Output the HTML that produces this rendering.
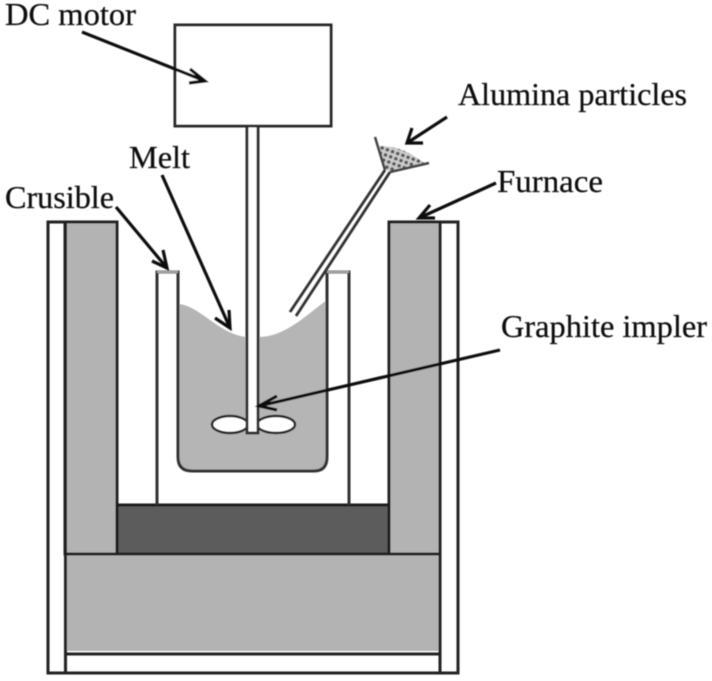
<!DOCTYPE html>
<html>
<head>
<meta charset="utf-8">
<style>
html,body{margin:0;padding:0;background:#fff;width:712px;height:681px;overflow:hidden}
svg{display:block}
text{font-family:"Liberation Serif",serif;font-size:32px;fill:#111;stroke:#111;stroke-width:.25}
</style>
</head>
<body>
<svg width="712" height="681" viewBox="0 0 712 681" xmlns="http://www.w3.org/2000/svg">
<defs>
<filter id="b" x="-5%" y="-5%" width="110%" height="110%"><feGaussianBlur stdDeviation="0.5"/></filter>
<pattern id="dots" width="5.500" height="5.500" patternUnits="userSpaceOnUse" patternTransform="rotate(20)">
<rect width="5.500" height="5.500" fill="#ccc"/><circle cx="2.750" cy="2.750" r="1.800" fill="#555"/>
</pattern>
</defs>
<g filter="url(#b)">
<!-- furnace -->
<rect x="65" y="222" width="52" height="332" fill="#b3b3b3" stroke="#222" stroke-width="3"/>
<rect x="389" y="222" width="51" height="332" fill="#b3b3b3" stroke="#222" stroke-width="3"/>
<rect x="117" y="505" width="272" height="49" fill="#5c5c5c" stroke="#1a1a1a" stroke-width="3"/>
<rect x="65.500" y="554" width="374.500" height="97" fill="#b3b3b3"/>
<path d="M65 222H48V673H458V222H440" fill="none" stroke="#222" stroke-width="3"/>
<path d="M65.500 554H440M65.500 654H440M65.500 222V673M440 222V673" fill="none" stroke="#222" stroke-width="3"/>
<!-- crucible -->
<path d="M157 505V272H178V300M349 505V272H327V300" fill="none" stroke="#333" stroke-width="3"/>
<path d="M157 272H178M327 272H349" stroke="#aaa" stroke-width="2" fill="none"/>
<path d="M179 304C200 306 220 335 247 337L258 337C285 337 305 316 327 300V457Q327 470 314 470H192Q179 470 179 457Z" fill="#b5b5b5"/>
<path d="M178 300V457Q178 471 192 471H314Q327 471 327 457V300" fill="none" stroke="#333" stroke-width="3"/>
<!-- impeller -->
<ellipse cx="230" cy="424.500" rx="18" ry="8.500" fill="#fff" stroke="#222" stroke-width="2.500"/>
<ellipse cx="276" cy="424.500" rx="19" ry="8.500" fill="#fff" stroke="#222" stroke-width="2.500"/>
<!-- shaft -->
<path d="M247 126V433H258V126" fill="#fff" stroke="#333" stroke-width="3"/>
<!-- motor -->
<rect x="175" y="25" width="156" height="101" fill="#fff" stroke="#2a2a2a" stroke-width="3"/>
<!-- funnel -->
<path d="M378 146Q402 145 424 163L390 171L385 170Z" fill="url(#dots)"/>
<path d="M375 137L385 170M429 163L390 172" fill="none" stroke="#444" stroke-width="2.500"/>
<path d="M290 312L385 170M296 316L390 172" fill="none" stroke="#333" stroke-width="2.800"/>
<!-- arrows -->
<g fill="none" stroke="#111" stroke-width="3.200">
<path d="M82 32L205 81M190 69L205 81L189 83"/>
<path d="M116 207L167 268M163 250L167 268L152 261"/>
<path d="M162 175L230 328M229 310L230 328L215 318"/>
<path d="M500 350L259 406M277 396L259 406L277 410"/>
<path d="M447 117L407 143M412 128L407 143L423 143"/>
<path d="M496 183L419 218M430 205L419 218L435 218"/>
</g>
<!-- labels -->
<text x="5" y="25" textLength="131" lengthAdjust="spacingAndGlyphs">DC motor</text>
<text x="129" y="168" textLength="61" lengthAdjust="spacingAndGlyphs">Melt</text>
<text x="5" y="208" textLength="109" lengthAdjust="spacingAndGlyphs">Crusible</text>
<text x="458" y="105" textLength="229" lengthAdjust="spacingAndGlyphs">Alumina particles</text>
<text x="497" y="192" textLength="106" lengthAdjust="spacingAndGlyphs">Furnace</text>
<text x="501" y="337" textLength="206" lengthAdjust="spacingAndGlyphs">Graphite impler</text>
</g>
</svg>
</body>
</html>
